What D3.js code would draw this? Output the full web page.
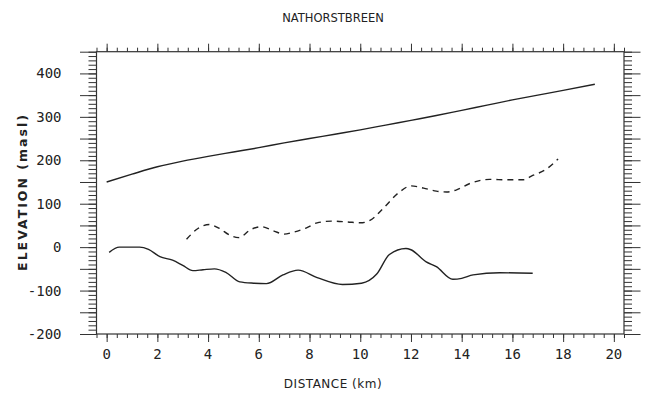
<!DOCTYPE html>
<html>
<head>
<meta charset="utf-8">
<script src="https://cdn.jsdelivr.net/npm/d3@7"></script>
<style>
  body { margin: 0; background: #fff; }
  svg { display: block; }
</style>
</head>
<body>
<div id="chart"></div>
<script>
// Mặt băng (surface)
const surfaceKm   = [0, 1, 2, 3, 4, 5, 6, 7, 8, 9, 10, 11, 12, 13, 14, 15, 16, 17, 18, 19.25];
const surfaceElev = [150, 168, 185, 198, 209, 219, 229, 240, 250, 260, 270, 281, 292, 303, 315, 327, 339, 350, 361, 375];

// Đáy băng (bed)
const bedKm   = [0.1, 0.5, 1.3, 1.65, 2.1, 2.6, 3.0, 3.4, 3.8, 4.25, 4.7, 5.25, 5.8, 6.3, 6.95, 7.55, 8.3, 9.3, 10.05, 10.65, 11.15, 11.8, 12.0, 12.6, 13.0, 13.65, 14.0, 14.45, 15.5, 16.8];
const bedElev = [-12, 0, 0, -5, -22, -30, -42, -54, -52, -50, -58, -80, -83, -84, -64, -53, -70, -86, -83, -62, -17, -3, -6, -34, -45, -74, -72, -64, -59, -60];

// Đường nét đứt
const dashKm   = [3.15, 3.6, 4.05, 4.45, 4.85, 5.2, 5.7, 6.1, 6.6, 7.0, 7.4, 7.9, 8.3, 8.9, 9.5, 10.0, 10.4, 10.9, 11.55, 12.0, 12.5, 13.0, 13.4, 13.8, 14.3, 15.1, 15.8, 16.4, 16.8, 17.35, 17.8];
const dashElev = [18, 43, 52, 43, 28, 22, 41, 47, 37, 30, 35, 45, 56, 60, 58, 56, 62, 89, 127, 141, 136, 129, 127, 132, 146, 156, 155, 155, 165, 180, 203];

// Nhãn trục
const xTickLabels = [0, 2, 4, 6, 8, 10, 12, 14, 16, 18, 20];
const yTickLabels = [-200, -100, 0, 100, 200, 300, 400];

let fullWidth = 645, fullHeight = 393;
let margin = { top: 51.7, right: 21, bottom: 59, left: 96.5 };
let width = fullWidth - margin.left - margin.right;
let height = fullHeight - margin.top - margin.bottom;

let svg = d3.select("#chart")
    .append("svg")
    .attr("width", fullWidth)
    .attr("height", fullHeight);

svg.append("rect").attr("width", fullWidth).attr("height", fullHeight).attr("fill", "#fff");

// Tiêu đề
svg.append("text")
    .attr("x", 333)
    .attr("y", 22)
    .attr("text-anchor", "middle")
    .style("font-family", "DejaVu Sans")
    .style("font-size", "11.5px")
    .style("fill", "#222")
    .text("NATHORSTBREEN");

let g = svg.append("g")
    .attr("transform", `translate(${margin.left},${margin.top})`);

let x = d3.scaleLinear().domain([-0.4, 20.4]).range([0, width]);
let y = d3.scaleLinear().domain([-200, 450]).range([height, 0]);

// Vạch chia
let xMinor = d3.range(-1, 52).map(i => Math.round(i * 0.4 * 10) / 10);
let yMinor = d3.range(-20, 46).map(i => i * 10);
let yMajor = d3.range(-4, 10).map(i => i * 50);

function tickAxis(axis, values, size) {
    return axis.tickValues(values).tickSize(size).tickFormat("");
}

let axes = [
    ["translate(0," + height + ")", tickAxis(d3.axisBottom(x), xMinor, 4)],
    ["translate(0," + height + ")", tickAxis(d3.axisBottom(x), xTickLabels, 8)],
    ["translate(0,0)", tickAxis(d3.axisTop(x), xMinor, 4)],
    ["translate(0,0)", tickAxis(d3.axisTop(x), xTickLabels, 8)],
    ["translate(0,0)", tickAxis(d3.axisLeft(y), yMinor, 8)],
    ["translate(0,0)", tickAxis(d3.axisLeft(y), yMajor, 16.5)],
    ["translate(" + width + ",0)", tickAxis(d3.axisRight(y), yMinor, 8)],
    ["translate(" + width + ",0)", tickAxis(d3.axisRight(y), yMajor, 16.5)]
];
axes.forEach(([tr, ax]) => {
    let a = g.append("g").attr("transform", tr).call(ax);
    a.select(".domain").remove();
    a.selectAll("line").style("stroke", "#333").style("stroke-width", 1);
});

// Khung
g.append("rect")
    .attr("width", width)
    .attr("height", height)
    .attr("fill", "none")
    .attr("stroke", "#333")
    .attr("stroke-width", 1.2);

// Nhãn số
g.selectAll(".xlab")
    .data(xTickLabels)
    .enter()
    .append("text")
    .attr("x", d => x(d))
    .attr("y", height + 25)
    .attr("text-anchor", "middle")
    .style("font-family", "DejaVu Sans Mono")
    .style("font-size", "14px")
    .style("fill", "#222")
    .text(d => d);

g.selectAll(".ylab")
    .data(yTickLabels)
    .enter()
    .append("text")
    .attr("x", -35)
    .attr("y", d => y(d) + 5)
    .attr("text-anchor", "end")
    .style("font-family", "DejaVu Sans Mono")
    .style("font-size", "14px")
    .style("fill", "#222")
    .text(d => d);

// Tên trục
svg.append("text")
    .attr("x", 333)
    .attr("y", 388)
    .attr("text-anchor", "middle")
    .style("font-family", "DejaVu Sans")
    .style("font-size", "12px")
    .style("letter-spacing", "0.5px")
    .style("fill", "#222")
    .text("DISTANCE (km)");

svg.append("text")
    .attr("transform", "translate(27,192) rotate(-90)")
    .attr("text-anchor", "middle")
    .style("font-family", "DejaVu Sans")
    .style("font-size", "12.5px")
    .style("font-weight", "bold")
    .style("letter-spacing", "2px")
    .style("fill", "#222")
    .text("ELEVATION (masl)");

// Đường
let line = d3.line()
    .x(d => x(d[0]))
    .y(d => y(d[1]))
    .curve(d3.curveMonotoneX);

let series = [
    [d3.zip(surfaceKm, surfaceElev), null],
    [d3.zip(bedKm, bedElev), null],
    [d3.zip(dashKm, dashElev), "6,5"]
];
series.forEach(([pts, dash]) => {
    g.append("path")
        .datum(pts)
        .attr("d", line)
        .attr("fill", "none")
        .attr("stroke", "#222")
        .attr("stroke-width", 1.4)
        .attr("stroke-dasharray", dash);
});
</script>
</body>
</html>
